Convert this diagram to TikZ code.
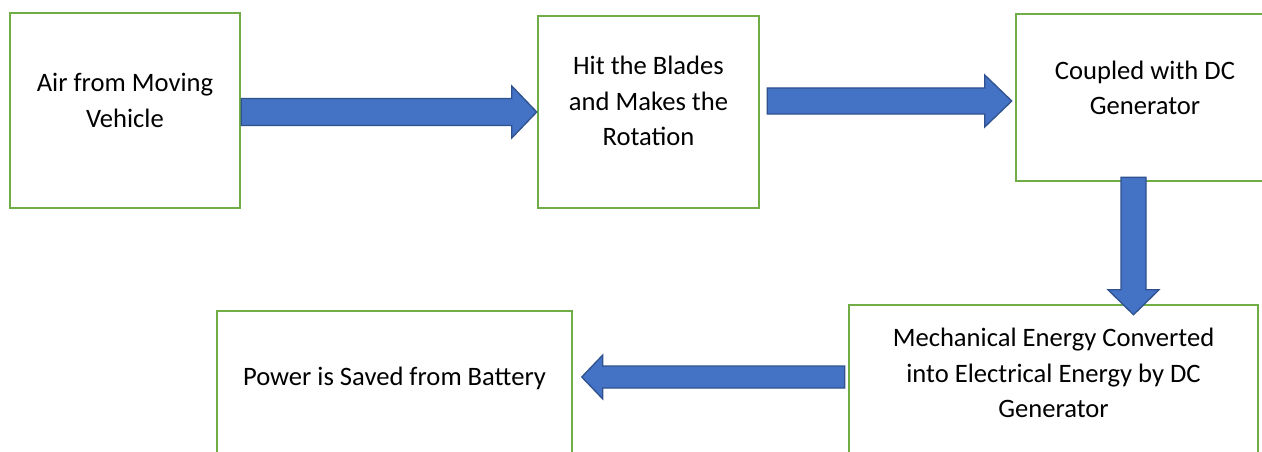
\documentclass[tikz,border=0pt]{standalone}
\usepackage{fontspec}
\setmainfont{Carlito}
\usetikzlibrary{calc}
\definecolor{boxgreen}{HTML}{70AD47}
\definecolor{arrfill}{HTML}{4472C4}
\definecolor{arredge}{HTML}{2F528F}
\tikzset{
  flowbox/.style={draw=boxgreen, line width=2.5pt, fill=white, rectangle, inner sep=0pt},
  flowtext/.style={align=center, inner sep=0pt, font=\fontsize{26.6}{35.5}\selectfont},
  blockarrow/.style={fill=arrfill, draw=arredge, line width=1.3pt, line join=miter}
}
% #1 start, #2 tip, #3 shaft half width, #4 head half width, #5 head length, #6 name
\newcommand{\blockarr}[6]{%
  \coordinate (#6hb) at ($(#2)!#5!(#1)$);
  \draw[blockarrow] ($(#1)!#3!90:(#2)$) -- ($(#6hb)!#3!90:(#2)$) -- ($(#6hb)!#4!90:(#2)$)
    -- (#2) -- ($(#6hb)!#4!-90:(#2)$) -- ($(#6hb)!#3!-90:(#2)$) -- ($(#1)!#3!-90:(#2)$) -- cycle;
}
\begin{document}
\begin{tikzpicture}[x=1pt,y=-1pt]
\useasboundingbox (0,0) rectangle (1262,452);
\clip (0,0) rectangle (1262,452);
\fill[white] (0,0) rectangle (1262,452);
% boxes
\node[flowbox, minimum width=230pt, minimum height=195pt] (b1) at (125,110.5) {};
\node[flowbox, minimum width=221pt, minimum height=192pt] (b2) at (648.5,112) {};
\node[flowbox, minimum width=258pt, minimum height=167pt] (b3) at (1145,97.5) {};
\node[flowbox, minimum width=409pt, minimum height=156pt] (b4) at (1053.5,383) {};
\node[flowbox, minimum width=355pt, minimum height=150pt] (b5) at (394.5,386) {};
% texts
\node[flowtext] (t1) at ($(b1.center)+(0,-10)$) {Air from Moving\\Vehicle};
\node[flowtext] (t2) at ($(b2.center)+(0,-11)$) {Hit the Blades\\and Makes the\\Rotation};
\node[flowtext] (t3) at ($(b3.center)+(0,-9.5)$) {Coupled with DC\\Generator};
\node[flowtext] (t4) at ($(b4.center)+(0,-10)$) {Mechanical Energy Converted\\into Electrical Energy by DC\\Generator};
\node[flowtext] (t5) at ($(b5.center)+(0,-8)$) {Power is Saved from Battery};
% arrow end points
\coordinate (a1s) at (b1.east |- b2.west);
\coordinate (a1e) at (b2.west);
\coordinate (a2s) at ($(b2.east)+(7,-11)$);
\coordinate (a2e) at ($(b3.west)+(-3,3.5)$);
\coordinate (a3s) at ($(b3.south)+(-11.5,-5)$);
\coordinate (a3e) at ($(b4.north)+(80,11)$);
\coordinate (a4s) at ($(b4.west)+(-3,-6)$);
\coordinate (a4e) at ($(b5.east)+(8.5,-9)$);
% arrows
\blockarr{a1s}{a1e}{13.5pt}{26pt}{25pt}{x1}
\blockarr{a2s}{a2e}{13pt}{26pt}{27pt}{x2}
\blockarr{a3s}{a3e}{12.5pt}{25.5pt}{25pt}{x3}
\blockarr{a4s}{a4e}{11pt}{22pt}{21pt}{x4}
\end{tikzpicture}
\end{document}
